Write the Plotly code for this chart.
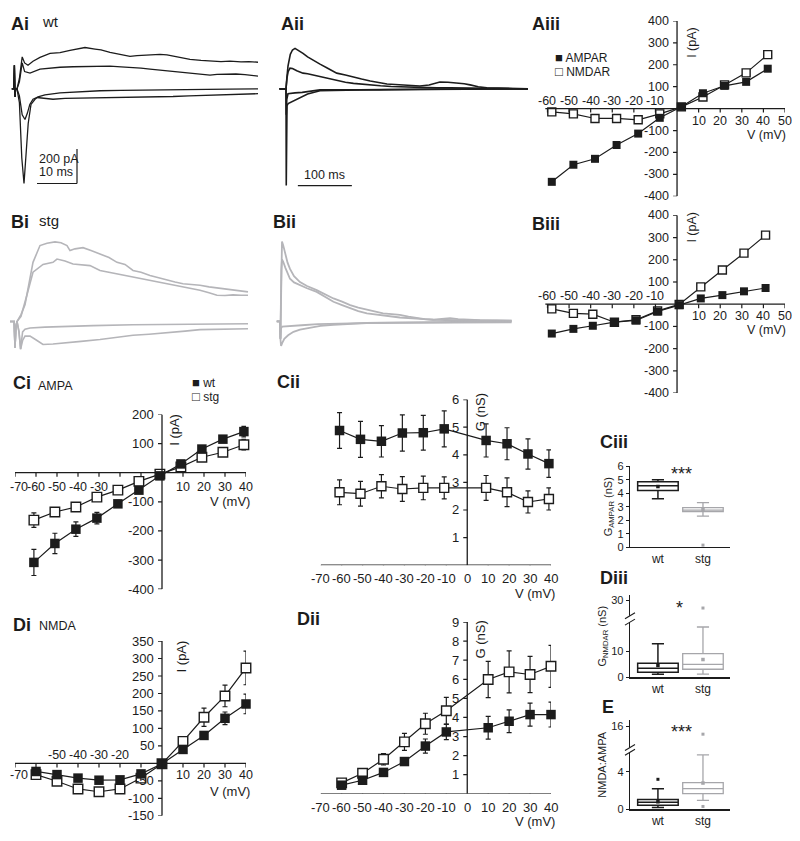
import plotly.graph_objects as go

# page geometry: the browser adds an 8 px body margin, so the figure is drawn 8 px in
PAGE_W, PAGE_H, OFF = 800, 841, 8
W, H = PAGE_W - 2 * OFF, PAGE_H - 2 * OFF
INK = '#1c1c1c'
GREY = '#b5b5b9'
BOXGREY = '#a6a6aa'
FONT = 'Liberation Sans, Arial, Helvetica, sans-serif'

# ---------------- example traces (time ms, current pA) ----------------
# Ai  (wt, 10 ms window)
ai_t1 = [-0.3, 0.2, 0.35, 0.5, 0.65, 1.0, 1.6, 2.3, 2.9, 3.75, 5.0, 6.75, 9.25, 11.75, 14.25, 16.0, 18.0, 20.5, 22.0, 24.25, 27.0, 29.25, 31.0, 33.0, 35.0, 36.75, 38.5, 40.5, 42.5, 44.25, 47.0, 49.25, 52.0, 54.25, 57.0, 59.0, 61.25]
ai_i1 = [0, 0, 137, -46, 0, 0, 60, 185, 150, 137, 160, 182, 205, 210, 222, 228, 239, 230, 225, 211, 200, 188, 192, 194, 198, 200, 196, 188, 180, 171, 165, 160, 158, 160, 156, 158, 154]
ai_t2 = [-0.3, 0.2, 0.35, 0.5, 0.65, 1.0, 1.6, 2.3, 2.9, 4.25, 6.75, 9.0, 11.75, 15.0, 19.25, 22.0, 24.25, 27.0, 29.25, 32.0, 34.25, 36.0, 39.25, 42.0, 44.25, 46.75, 48.0, 49.25, 51.0, 53.0, 55.75, 58.0, 61.25]
ai_i2 = [0, 0, 137, -46, 0, 0, 40, 150, 100, 91, 114, 120, 125, 128, 131, 129, 131, 127, 125, 120, 114, 110, 103, 97, 91, 86, 80, 80, 84, 86, 86, 82, 74]
ai_t3 = [-0.3, 0.2, 0.35, 0.5, 0.65, 1.0, 1.6, 2.2, 2.75, 3.2, 3.8, 4.5, 5.5, 6.25, 8.0, 11.75, 16.0, 21.75, 27.0, 34.25, 41.0, 47.0, 54.0, 61.25]
ai_i3 = [0, 0, 137, -46, 0, 0, -80, -400, -547, -420, -200, -90, -60, -46, -35, -23, -17, -11, -9, -6, -4, -3, -1, 0]
ai_t4 = [-0.3, 0.2, 0.35, 0.5, 0.65, 1.0, 1.6, 2.3, 3.0, 3.6, 4.2, 5.0, 6.0, 8.0, 10.0, 13.0, 16.0, 20.0, 24.0, 28.0, 32.0, 36.0, 40.0, 44.0, 48.0, 52.0, 56.0, 61.25]
ai_i4 = [0, 0, 137, -46, 0, 0, -40, -150, -177, -140, -90, -60, -50, -57, -60, -55, -54, -52, -50, -48, -46, -47, -44, -40, -38, -34, -32, -28]

# Aii (wt, 100 ms window)
aii_t1 = [-12, 0, 1.5, 3.7, 8, 12, 16.7, 22, 26, 31.5, 40, 50, 63, 78, 94, 110, 124, 140, 156, 172, 187, 202, 217, 232, 248, 265, 285, 300, 317, 330, 341, 356, 372, 390, 410, 430, 448]
aii_i1 = [0, 0, 60, 131, 200, 225, 234, 225, 215, 205, 185, 165, 143, 118, 91, 80, 68, 57, 46, 37, 28, 25, 23, 20, 17, 22, 40, 38, 34, 30, 23, 12, 6, 4, 2, 1, 0]
aii_t2 = [-12, 0, 1.9, 4, 7.4, 12, 20, 31.5, 40, 50, 63, 78, 94, 110, 125, 140, 156, 175, 195, 217, 240, 260, 280, 304, 330, 360, 390, 420, 448]
aii_i2 = [0, 0, 63, 100, 120, 118, 105, 91, 87, 80, 72, 60, 46, 38, 32, 27, 23, 18, 14, 11, 9, 7, 6, 6, 4, 3, 2, 1, 0]
aii_t3 = [-12, 0, 0.5, 1.0, 1.9, 4, 7.4, 15, 26, 40, 63, 90, 137, 180, 250, 330, 448]
aii_i3 = [0, 0, -559, -300, -97, -85, -80, -65, -51, -30, -11, -8, -6, -4, -2, -1, 0]
aii_t4 = [-12, 0, 0.5, 1.5, 3.7, 8, 16.7, 30, 45, 63, 90, 120, 174, 250, 350, 448]
aii_i4 = [0, 0, -150, -60, -28, -25, -23, -20, -12, -6, -5, -6, -6, -3, -1, 0]

# Bi (stg)
bi_t1 = [-0.75, 0.3, 0.5, 0.7, 1.0, 1.5, 2.0, 3.0, 4.0, 5.0, 6.75, 8.5, 10.5, 12.0, 13.5, 14.25, 15.5, 17.5, 19.5, 21.75, 24, 26, 28, 30, 32, 34.25, 36.5, 38.5, 40.5, 42.5, 44.5, 46.75, 49, 51, 53, 55, 57, 58.75]
bi_i1 = [0, 0, -152, -40, 0, 20, 40, 97, 230, 342, 439, 452, 460, 455, 439, 410, 420, 427, 410, 389, 370, 342, 330, 295, 285, 266, 252, 238, 228, 218, 214, 209, 200, 194, 188, 181, 175, 171]
bi_t2 = [-0.75, 0.3, 0.5, 0.7, 1.0, 1.5, 2.0, 3.5, 5.0, 7.5, 10.0, 11.0, 13.0, 15.0, 17.0, 19.25, 21.75, 24.0, 26.0, 28.0, 30.0, 32.0, 34.25, 36.5, 38.5, 40.5, 42.5, 44.5, 46.75, 49.0, 51.0, 53.0, 55.0, 57.0, 58.75]
bi_i2 = [0, 0, -152, -40, 0, 15, 30, 154, 285, 330, 342, 361, 350, 332, 326, 323, 295, 285, 275, 266, 257, 248, 238, 228, 218, 209, 200, 190, 181, 166, 152, 150, 154, 152, 152]
bi_t3 = [-0.75, 0.3, 0.5, 0.7, 1.0, 1.5, 1.9, 2.4, 3.0, 4.25, 8, 13.5, 20, 30, 40, 50, 58.75]
bi_i3 = [0, 0, -152, -40, 0, -60, -160, -60, -45, -38, -33, -28, -24, -19, -16, -14, -13]
bi_t4 = [-0.75, 0.3, 0.5, 0.7, 1.0, 1.5, 1.9, 2.4, 3.0, 4.25, 6.0, 7.5, 10, 13.5, 17, 21.75, 26, 30, 34, 38.5, 43, 46.75, 51, 55, 58.75]
bi_i4 = [0, 0, -152, -40, 0, -60, -160, -110, -85, -85, -110, -133, -130, -124, -115, -104, -92, -80, -74, -67, -56, -47, -45, -42, -42]

# Bii (stg)
bii_t1 = [-6, 0, 0.8, 1.5, 2.5, 3.7, 6, 10, 14, 18.5, 26, 37, 50, 68, 83, 99, 115, 130, 145, 161, 176, 191, 207, 222, 238, 253, 268, 284, 300, 315, 330, 346, 370, 400, 429]
bii_i1 = [0, 0, -100, 150, 380, 462, 440, 390, 340, 304, 262, 228, 205, 181, 158, 133, 115, 95, 80, 67, 55, 47, 42, 38, 28, 19, 14, 10, 15, 19, 14, 10, 8, 6, 4]
bii_t2 = [-6, 0, 0.8, 1.5, 2.5, 3.7, 6, 10, 14, 18.5, 26, 37, 50, 68, 83, 99, 115, 130, 145, 161, 191, 222, 253, 284, 330, 380, 429]
bii_i2 = [0, 0, -100, 120, 300, 359, 345, 310, 275, 247, 226, 209, 192, 171, 142, 114, 95, 76, 60, 47, 35, 23, 16, 10, 7, 5, 4]
bii_t3 = [-6, 0, 0.8, 2, 4, 8, 15, 25, 37, 55, 75, 99, 130, 160, 222, 300, 429]
bii_i3 = [0, 0, -100, -142, -125, -100, -80, -60, -47, -35, -25, -19, -12, -9, -6, -3, 0]
bii_t4 = [-6, 0, 0.8, 2, 4, 10, 20, 40, 70, 99, 150, 222, 300, 429]
bii_i4 = [0, 0, -100, -40, -30, -28, -26, -22, -16, -13, -10, -8, -6, -5]

# scale bars
AI_BAR_T0, AI_BAR_MS, AI_BAR_I0, AI_BAR_PA = 6, 10, -547, 200
AII_BAR_T0, AII_BAR_MS, AII_BAR_I0 = 22, 100, -559

# ---------------- I-V data ----------------
v_aiii = [-58, -48, -38, -28, -18, -8, 2, 12, 22, 32, 42]
ampar_aiii = [-334, -256, -229, -166, -114, -42, 8, 70, 104, 122, 182]
nmdar_aiii = [-15, -24, -45, -45, -51, -24, 8, 53, 108, 163, 246]

v_biii = [-58, -48, -39, -29, -19, -9, 1, 11, 21, 31, 41]
ampar_biii = [-132, -111, -97, -81, -73, -33, -4, 26, 41, 58, 73]
nmdar_biii = [-21, -41, -45, -81, -70, -30, -1, 78, 154, 230, 311]

v_ci = [-61, -51, -41, -31, -21, -11, -1, 9, 19, 29, 39]
wt_ci = [-308, -243, -194, -156, -107, -60, -11, 30, 81, 115, 141]
wt_ci_err = [45, 35, 25, 20, 8, 8, 8, 8, 10, 10, 18]
stg_ci = [-163, -135, -118, -84, -60, -30, -5, 20, 53, 70, 96]
stg_ci_err = [25, 15, 12, 8, 6, 6, 5, 6, 8, 8, 18]

v_cii = [-61, -51, -41, -31, -21, -11, 9, 19, 29, 39]
wt_cii = [4.88, 4.56, 4.49, 4.79, 4.8, 4.94, 4.52, 4.4, 4.03, 3.68]
wt_cii_err = [0.65, 0.65, 0.57, 0.66, 0.63, 0.65, 0.6, 0.58, 0.55, 0.5]
stg_cii = [2.64, 2.59, 2.86, 2.76, 2.8, 2.8, 2.8, 2.64, 2.29, 2.4]
stg_cii_err = [0.45, 0.45, 0.42, 0.45, 0.43, 0.4, 0.45, 0.52, 0.4, 0.4]

v_di = [-60, -50, -40, -30, -20, -10, 0, 10, 20, 30, 40]
wt_di = [-23, -32, -42, -48, -47, -30, -1, 40, 80, 129, 170]
wt_di_err = [8, 8, 8, 8, 8, 8, 5, 8, 10, 18, 28]
stg_di = [-32, -51, -73, -81, -73, -42, -1, 63, 132, 193, 273]
stg_di_err = [8, 8, 10, 10, 8, 8, 5, 8, 26, 31, 48]

v_dii = [-60, -50, -40, -30, -20, -10, 10, 20, 30, 40]
wt_dii = [0.45, 0.71, 1.12, 1.69, 2.5, 3.24, 3.46, 3.8, 4.15, 4.15]
wt_dii_err = [0.05, 0.08, 0.1, 0.15, 0.37, 0.4, 0.6, 0.6, 0.6, 0.65]
stg_dii = [0.57, 1.08, 1.81, 2.72, 3.67, 4.35, 5.99, 6.39, 6.25, 6.68]
stg_dii_err = [0.1, 0.15, 0.3, 0.45, 0.55, 0.7, 0.95, 1.1, 0.95, 1.1]

# ---------------- box-plot summaries ----------------
groups = ['wt', 'stg']
ciii_q1 = [4.2, 2.63]; ciii_med = [4.55, 2.75]; ciii_q3 = [4.85, 2.93]
ciii_lo = [3.6, 2.3]; ciii_hi = [5.0, 3.3]; ciii_mean = [4.5, 2.78]
ciii_out_g = ['stg']; ciii_out_v = [0.15]

diii_q1 = [1.9, 3.1]; diii_med = [3.5, 5.0]; diii_q3 = [5.4, 9.2]
diii_lo = [1.2, 1.2]; diii_hi = [13.1, 19.6]; diii_mean = [4.6, 6.9]
diii_out_g = ['stg']; diii_out_v = [27]

e_q1 = [0.42, 1.68]; e_med = [0.74, 2.2]; e_q3 = [1.05, 2.84]
e_lo = [0.2, 0.95]; e_hi = [2.2, 5.8]; e_mean = [0.8, 2.8]
e_out_g = ['wt', 'stg', 'stg']; e_out_v = [3.2, 14.6, 0.3]


def e_disp(v):
    # broken axis: values above the break are compressed
    return v if v <= 6 else 6.5 + (v - 12) * 0.585


fig = go.Figure()
shapes, annots, lay = [], [], {}


def fx(x):
    return (x - OFF) / W


def fy(y):
    return 1 - (y - OFF) / H


def sfx(n):
    return '' if n == 1 else str(n)


def make_axes(n, xpx, ypx, xr, yr):
    lay['xaxis' + sfx(n)] = dict(domain=[fx(xpx[0]), fx(xpx[1])], range=xr, visible=False,
                                 anchor='y' + sfx(n), fixedrange=True)
    lay['yaxis' + sfx(n)] = dict(domain=[fy(ypx[1]), fy(ypx[0])], range=yr, visible=False,
                                 anchor='x' + sfx(n), fixedrange=True)


def seg(n, x0, y0, x1, y1, width=1.3):
    shapes.append(dict(type='line', xref='x' + sfx(n), yref='y' + sfx(n), x0=x0, y0=y0, x1=x1, y1=y1,
                       line=dict(color=INK, width=width)))


def xtick(n, x, y=0, length=4):
    shapes.append(dict(type='line', xref='x' + sfx(n), yref='y' + sfx(n), x0=x, x1=x,
                       ysizemode='pixel', yanchor=y, y0=0, y1=-length, line=dict(color=INK, width=1.2)))


def ytick(n, y, x=0, length=4):
    shapes.append(dict(type='line', xref='x' + sfx(n), yref='y' + sfx(n), y0=y, y1=y,
                       xsizemode='pixel', xanchor=x, x0=0, x1=-length, line=dict(color=INK, width=1.2)))


def dtext(n, x, y, text, size=13, xanchor='center', yanchor='middle', xshift=0, yshift=0, angle=0):
    annots.append(dict(xref='x' + sfx(n), yref='y' + sfx(n), x=x, y=y, text=text, showarrow=False,
                       xanchor=xanchor, yanchor=yanchor, xshift=xshift, yshift=yshift, textangle=angle,
                       font=dict(family=FONT, size=size, color=INK)))


def ptext(xp, yp, text, size=13, xanchor='left', yanchor='middle', angle=0):
    annots.append(dict(xref='paper', yref='paper', x=fx(xp), y=fy(yp), text=text, showarrow=False,
                       xanchor=xanchor, yanchor=yanchor, textangle=angle, borderpad=0,
                       font=dict(family=FONT, size=size, color=INK)))


def trace_line(n, t, i, color, width=1.3):
    fig.add_trace(go.Scatter(x=t, y=i, xaxis='x' + sfx(n), yaxis='y' + sfx(n), mode='lines',
                             line=dict(color=color, width=width), hoverinfo='skip', cliponaxis=False))


def iv_series(n, x, y, err=None, filled=True, size=9):
    kw = {}
    if err is not None:
        kw['error_y'] = dict(type='data', array=err, visible=True, color=INK, thickness=1.2, width=2.5)
    fig.add_trace(go.Scatter(
        x=x, y=y, xaxis='x' + sfx(n), yaxis='y' + sfx(n), mode='lines+markers', cliponaxis=False,
        line=dict(color=INK, width=1.2),
        marker=dict(symbol='square', size=size, color=INK if filled else 'white',
                    line=dict(color=INK, width=0 if filled else 1.4)), **kw))


def iv_frame(n, xmin, xmax, ymin, ymax, xt, above, below, yt, fs, above_shift=8, below_shift=-12,
             xshift_y=-6, at_page_edge=False, xfs=None):
    xfs = xfs or fs
    seg(n, xmin, 0, xmax, 0)
    seg(n, 0, ymin, 0, ymax)
    for v in xt:
        if v != 0:
            xtick(n, v, 0)
    for v in above:
        dtext(n, v, 0, str(v), size=xfs, yshift=above_shift)
    for v in below:
        if v == xmin and at_page_edge:
            # left-most label kept inside the page
            dtext(n, v, 0, str(v), size=xfs, xanchor='left', xshift=-7, yshift=below_shift)
        else:
            dtext(n, v, 0, str(v), size=xfs, yshift=below_shift)
    for v in yt:
        if v == 0:
            continue
        ytick(n, v)
        dtext(n, 0, v, str(v), size=fs, xanchor='right', xshift=xshift_y)


# ---------------- A/B example traces ----------------
make_axes(1, (8, 262), (25, 190), [-1.25, 62.25], [-604, 336])
make_axes(2, (278, 532), (25, 190), [-14.8, 455.6], [-604, 336])
make_axes(4, (8, 262), (225, 360), [-1.25, 62.25], [-228, 541.5])
make_axes(5, (270, 524), (225, 360), [-18.5, 451.9], [-228, 541.5])

for t, i in [(ai_t1, ai_i1), (ai_t2, ai_i2), (ai_t3, ai_i3), (ai_t4, ai_i4)]:
    trace_line(1, t, i, INK, 1.3)
for t, i in [(aii_t1, aii_i1), (aii_t2, aii_i2), (aii_t3, aii_i3), (aii_t4, aii_i4)]:
    trace_line(2, t, i, INK, 1.6)
for t, i in [(bi_t1, bi_i1), (bi_t2, bi_i2), (bi_t3, bi_i3), (bi_t4, bi_i4)]:
    trace_line(4, t, i, GREY, 1.6)
for t, i in [(bii_t1, bii_i1), (bii_t2, bii_i2), (bii_t3, bii_i3), (bii_t4, bii_i4)]:
    trace_line(5, t, i, GREY, 1.8)

# scale bars
seg(1, AI_BAR_T0 + AI_BAR_MS, AI_BAR_I0, AI_BAR_T0 + AI_BAR_MS, AI_BAR_I0 + AI_BAR_PA, 1.2)
seg(1, AI_BAR_T0, AI_BAR_I0, AI_BAR_T0 + AI_BAR_MS, AI_BAR_I0, 1.2)
dtext(1, AI_BAR_T0, AI_BAR_I0 + AI_BAR_PA, '200 pA', size=12.5, xanchor='left', yanchor='top', yshift=-1)
dtext(1, AI_BAR_T0, AI_BAR_I0, '10 ms', size=12.5, xanchor='left', yanchor='bottom', yshift=2)
seg(2, AII_BAR_T0, AII_BAR_I0, AII_BAR_T0 + AII_BAR_MS, AII_BAR_I0, 1.2)
dtext(2, AII_BAR_T0 + AII_BAR_MS / 2, AII_BAR_I0, '100 ms', size=12.5, yanchor='bottom', yshift=2)

# ---------------- Aiii / Biii ----------------
neg_ab = [-60, -50, -40, -30, -20, -10]
pos_ab = [10, 20, 30, 40, 50]
yt_ab = [-400, -300, -200, -100, 0, 100, 200, 300, 400]
for n, ypx, vv, amp, nmd, ylab_y in [(3, (15, 193), v_aiii, ampar_aiii, nmdar_aiii, 300),
                                      (6, (212.3, 392.7), v_biii, ampar_biii, nmdar_biii, 345)]:
    make_axes(n, (541, 785), ypx, [-63, 50], [-400, 400])
    iv_frame(n, -61, 50, -400, 400, neg_ab + pos_ab, neg_ab, pos_ab, yt_ab, 12.5,
             above_shift=8, below_shift=-12)
    dtext(n, 0, ylab_y, 'I (pA)', size=12.5, xshift=15, angle=-90)
    dtext(n, 50, 0, 'V (mV)', size=12.5, xanchor='right', xshift=3, yshift=-26)
    iv_series(n, vv, nmd, filled=False, size=8)
    iv_series(n, vv, amp, filled=True, size=8)

SQ_F = '<span style="font-size:13px">■</span> '
SQ_O = '<span style="font-size:13px">□</span> '
ptext(554, 52, SQ_F + 'AMPAR', 12)
ptext(554, 66, SQ_O + 'NMDAR', 12)

# ---------------- Ci ----------------
make_axes(7, (15, 246), (414.3, 591.7), [-70, 40], [-400, 200])
iv_frame(7, -70, 40, -400, 200, list(range(-70, 41, 10)), [], [-70, -60, -50, -40, -30, 10, 20, 30, 40],
         [-400, -300, -200, -100, 0, 100, 200], 13, below_shift=-14, at_page_edge=True, xfs=12.5)
dtext(7, 0, 147, 'I (pA)', size=13, xshift=13, angle=-90)
dtext(7, 40, 0, 'V (mV)', size=13, xanchor='right', xshift=6, yshift=-29)
iv_series(7, v_ci, stg_ci, stg_ci_err, filled=False, size=9.5)
iv_series(7, v_ci, wt_ci, wt_ci_err, filled=True, size=9.5)
ptext(191, 382, SQ_F + 'wt', 12)
ptext(191, 396, SQ_O + 'stg', 12)

# ---------------- Cii ----------------
make_axes(8, (320.7, 551), (399.3, 567.3), [-70, 40], [0, 6])
iv_frame(8, -70, 40, 0, 6, list(range(-70, 41, 10)), [], list(range(-70, 41, 10)),
         [0, 1, 2, 3, 4, 5, 6], 13, below_shift=-13)
dtext(8, 0, 5.55, 'G (nS)', size=13, xshift=13, angle=-90)
dtext(8, 40, 0, 'V (mV)', size=13, xanchor='right', xshift=6, yshift=-28)
iv_series(8, v_cii, stg_cii, stg_cii_err, filled=False, size=9)
iv_series(8, v_cii, wt_cii, wt_cii_err, filled=True, size=9.5)

# ---------------- Di ----------------
make_axes(10, (15, 246), (644.3, 821.7), [-70, 40], [-150, 350])
iv_frame(10, -70, 40, -150, 350, list(range(-70, 41, 10)), [-50, -40, -30, -20], [-70, 10, 20, 30, 40],
         list(range(-150, 351, 50)), 13, above_shift=8, below_shift=-12, at_page_edge=True, xfs=12.5)
dtext(10, 0, 306, 'I (pA)', size=13, xshift=19, angle=-90)
dtext(10, 40, 0, 'V (mV)', size=13, xanchor='right', xshift=6, yshift=-28)
iv_series(10, v_di, stg_di, stg_di_err, filled=False, size=9.5)
iv_series(10, v_di, wt_di, wt_di_err, filled=True, size=9.5)

# ---------------- Dii ----------------
make_axes(11, (320.7, 551), (625, 799.3), [-70, 40], [0, 9])
iv_frame(11, -70, 40, 0, 9, list(range(-70, 41, 10)), [], list(range(-70, 41, 10)),
         list(range(0, 10)), 13, below_shift=-14)
dtext(11, 0, 8.1, 'G (nS)', size=13, xshift=13, angle=-90)
dtext(11, 40, 0, 'V (mV)', size=13, xanchor='right', xshift=6, yshift=-28)
iv_series(11, v_dii, stg_dii, stg_dii_err, filled=False, size=9.5)
iv_series(11, v_dii, wt_dii, wt_dii_err, filled=True, size=9.5)


# ---------------- box panels ----------------
def box_axes(n, ypx, yr, tickvals, ticktext, title):
    lay['xaxis' + sfx(n)] = dict(domain=[fx(630), fx(730)], type='category', categoryorder='array',
                                 categoryarray=groups, range=[-0.62, 1.6], showline=True, linecolor=INK,
                                 linewidth=1.3, ticks='', showgrid=False, zeroline=False,
                                 tickfont=dict(family=FONT, size=12, color=INK), anchor='y' + sfx(n),
                                 fixedrange=True)
    lay['yaxis' + sfx(n)] = dict(domain=[fy(ypx[1]), fy(ypx[0])], range=yr, showline=True,
                                 linecolor=INK, linewidth=1.3, ticks='outside', ticklen=3, tickcolor=INK,
                                 tickvals=tickvals, ticktext=ticktext, showgrid=False, zeroline=False,
                                 tickfont=dict(family=FONT, size=11, color=INK),
                                 title=dict(text=title, font=dict(family=FONT, size=11, color=INK), standoff=2),
                                 anchor='x' + sfx(n), fixedrange=True)


def boxes(n, q1, med, q3, lo, hi, mean, out_g, out_v, disp=lambda v: v):
    for k, g in enumerate(groups):
        col = INK if g == 'wt' else BOXGREY
        fig.add_trace(go.Box(x=[g], q1=[disp(q1[k])], median=[disp(med[k])], q3=[disp(q3[k])],
                             lowerfence=[disp(lo[k])], upperfence=[disp(hi[k])],
                             xaxis='x' + sfx(n), yaxis='y' + sfx(n), width=0.9, whiskerwidth=0.3,
                             fillcolor='white', line=dict(color=col, width=1.5 if g == 'wt' else 1.3),
                             boxpoints=False, hoverinfo='skip'))
        fig.add_trace(go.Scatter(x=[g], y=[disp(mean[k])], xaxis='x' + sfx(n), yaxis='y' + sfx(n),
                                 mode='markers', marker=dict(symbol='square', size=3.5, color=col),
                                 cliponaxis=False, hoverinfo='skip'))
    fig.add_trace(go.Scatter(x=out_g, y=[disp(v) for v in out_v], xaxis='x' + sfx(n), yaxis='y' + sfx(n),
                             mode='markers', cliponaxis=False, hoverinfo='skip',
                             marker=dict(symbol='square', size=3,
                                         color=[INK if g == 'wt' else BOXGREY for g in out_g])))


def axis_break(n, y0, y1):
    shapes.append(dict(type='rect', xref='x' + sfx(n) + ' domain', yref='y' + sfx(n), xsizemode='pixel',
                       xanchor=0, x0=-3, x1=3, y0=y0, y1=y1, fillcolor='white', line=dict(width=0)))
    for y in (y0, y1):
        shapes.append(dict(type='line', xref='x' + sfx(n) + ' domain', yref='y' + sfx(n), xsizemode='pixel',
                           xanchor=0, x0=-5, x1=5, ysizemode='pixel', yanchor=y, y0=-3, y1=3,
                           line=dict(color=INK, width=1.1)))


box_axes(9, (467, 549), [0, 6], [0, 1, 2, 3, 4, 5, 6], ['0', '1', '2', '3', '4', '5', '6'],
         'G<sub>AMPAR</sub> (nS)')
boxes(9, ciii_q1, ciii_med, ciii_q3, ciii_lo, ciii_hi, ciii_mean, ciii_out_g, ciii_out_v)

box_axes(12, (597.8, 681), [0, 32], [0, 10, 30], ['0', '10', '30'], 'G<sub>NMDAR</sub> (nS)')
boxes(12, diii_q1, diii_med, diii_q3, diii_lo, diii_hi, diii_mean, diii_out_g, diii_out_v)
axis_break(12, 21.5, 24)

box_axes(13, (724.75, 815), [0, 9.5], [0, 4, e_disp(16)], ['0', '4', '16'], 'NMDA:AMPA')
boxes(13, e_q1, e_med, e_q3, e_lo, e_hi, e_mean, e_out_g, e_out_v, disp=e_disp)
axis_break(13, 6.1, 6.6)

ptext(681, 475, '***', 18, xanchor='center')
ptext(679, 611, '*', 18, xanchor='center')
ptext(681, 737, '***', 18, xanchor='center')

# ---------------- panel labels ----------------
for xp, yp, lab in [(10, 18, 'Ai'), (280, 18, 'Aii'), (531, 18, 'Aiii'),
                    (10, 219, 'Bi'), (272, 219, 'Bii'), (531, 221, 'Biii'),
                    (12, 382, 'Ci'), (276, 381, 'Cii'), (599, 442, 'Ciii'),
                    (12, 628, 'Di'), (296, 622, 'Dii'), (599, 580, 'Diii'), (601, 711, 'E')]:
    ptext(xp, yp, '<b>' + lab + '</b>', 18)
ptext(41, 16, 'wt', 15)
ptext(38, 218, 'stg', 15)
ptext(37, 385, 'AMPA', 12.5)
ptext(38, 629, 'NMDA', 12.5)

fig.update_layout(
    width=W, height=H, margin=dict(l=0, r=0, t=0, b=0), showlegend=False,
    plot_bgcolor='white', paper_bgcolor='white', boxmode='overlay',
    font=dict(family=FONT, color=INK), shapes=shapes, annotations=annots, **lay)

fig.write_html('out.html', config={'displayModeBar': False, 'staticPlot': True})
